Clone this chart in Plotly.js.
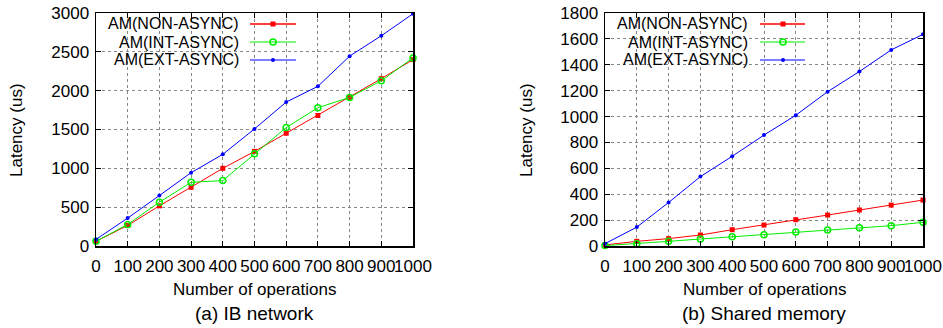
<!DOCTYPE html>
<html>
<head>
<meta charset="utf-8">
<script src="https://cdn.plot.ly/plotly-3.0.1.min.js"></script>
<style>html,body{margin:0;padding:0;background:#fff;}#chart{width:943px;height:328px;}</style>
</head>
<body>
<div id="chart"></div>
<script>
// ---- data ----
const operations = [0, 100, 200, 300, 400, 500, 600, 700, 800, 900, 1000];
const seriesNames = ['AM(NON-ASYNC)', 'AM(INT-ASYNC)', 'AM(EXT-ASYNC)'];
// (a) IB network
const ibNonAsync = [60, 265, 517, 756, 1000, 1218, 1452, 1680, 1913, 2155, 2400];
const ibIntAsync = [60, 278, 564, 820, 842, 1188, 1525, 1780, 1913, 2128, 2422];
const ibExtAsync = [85, 359, 650, 944, 1180, 1508, 1853, 2056, 2444, 2707, 2990];
// (b) Shared memory
const shmNonAsync = [8, 36, 57, 85, 126, 162, 203, 239, 278, 316, 355];
const shmIntAsync = [3, 18, 36, 54, 72, 87, 108, 123, 141, 157, 183];
const shmExtAsync = [18, 146, 336, 536, 693, 857, 1010, 1192, 1348, 1515, 1635];
const captions = ['(a) IB network', '(b) Shared memory'];
const xTitle = 'Number of operations';
const yTitle = 'Latency (us)';

// ---- styles ----
const W = 943, H = 328;
const FONT = '"Liberation Sans", Arial, Helvetica, sans-serif';
const colors = ['#ff0000', '#00ee00', '#0000ff'];
const markerStyles = [
  {symbol: 'square', size: 5, color: colors[0]},
  {symbol: 'circle-open', size: 6, color: colors[1], line: {width: 1.5, color: colors[1]}},
  {symbol: 'circle', size: 4, color: colors[2]}
];
const px = x => x / W;
const py = y => 1 - y / H;

function mkTrace(y, i, xa, ya) {
  return {
    x: operations, y: y, type: 'scatter', mode: 'lines+markers',
    name: seriesNames[i], showlegend: false, cliponaxis: false,
    xaxis: xa, yaxis: ya,
    line: {color: colors[i], width: 1},
    marker: markerStyles[i]
  };
}

const data = [
  mkTrace(ibNonAsync, 0, 'x', 'y'),
  mkTrace(ibIntAsync, 1, 'x', 'y'),
  mkTrace(ibExtAsync, 2, 'x', 'y'),
  mkTrace(shmNonAsync, 0, 'x2', 'y2'),
  mkTrace(shmIntAsync, 1, 'x2', 'y2'),
  mkTrace(shmExtAsync, 2, 'x2', 'y2')
];

const axisCommon = {
  showline: true, linecolor: '#000', linewidth: 1.5, mirror: 'allticks',
  ticks: 'inside', ticklen: 5, tickwidth: 1, tickcolor: '#000',
  showgrid: true, gridcolor: '#888', griddash: 'dot', gridwidth: 1,
  zeroline: false, fixedrange: true,
  tickfont: {family: FONT, size: 17, color: '#000'}
};
const xCommon = Object.assign({}, axisCommon, {range: [0, 1000], dtick: 100, tick0: 0, tickangle: 0, ticklabelstandoff: 4});
const yCommon = Object.assign({}, axisCommon, {ticklabelstandoff: 2});

const dom = [
  {x: [px(96), px(413)]},
  {x: [px(605), px(923)]}
];
const yDom = [py(246), py(13)];

const layout = {
  width: W, height: H,
  margin: {l: 0, r: 0, t: 0, b: 0},
  paper_bgcolor: '#fff', plot_bgcolor: '#fff',
  font: {family: FONT, size: 17, color: '#000'},
  showlegend: false,
  xaxis: Object.assign({}, xCommon, {domain: dom[0].x, anchor: 'y'}),
  yaxis: Object.assign({}, yCommon, {domain: yDom, anchor: 'x', range: [0, 3000], dtick: 500}),
  xaxis2: Object.assign({}, xCommon, {domain: dom[1].x, anchor: 'y2'}),
  yaxis2: Object.assign({}, yCommon, {domain: yDom, anchor: 'x2', range: [0, 1800], dtick: 200}),
  annotations: [],
  shapes: []
};

// titles & captions
const centersX = [(96 + 413) / 2, (605 + 923) / 2];
const yTitleX = [16, 526];
[0, 1].forEach(k => {
  layout.annotations.push({text: xTitle, xref: 'paper', yref: 'paper', x: px(centersX[k]), y: py(289),
    xanchor: 'center', yanchor: 'middle', showarrow: false, font: {family: FONT, size: 17}});
  layout.annotations.push({text: captions[k], xref: 'paper', yref: 'paper', x: px(centersX[k]), y: py(313),
    xanchor: 'center', yanchor: 'middle', showarrow: false, font: {family: FONT, size: 19}});
  layout.annotations.push({text: yTitle, xref: 'paper', yref: 'paper', x: px(yTitleX[k]), y: py(130),
    xanchor: 'center', yanchor: 'middle', showarrow: false, textangle: -90, font: {family: FONT, size: 17}});
});

// custom legends (text left of sample, like gnuplot)
const legendBoxes = [
  {x0: 97, x1: 305, textRight: 240, s0: 250, s1: 296, m: 273},
  {x0: 606, x1: 815, textRight: 749, s0: 760, s1: 805, m: 783}
];
const rowsY = [24, 42, 60];
legendBoxes.forEach(b => {
  layout.shapes.push({type: 'rect', xref: 'paper', yref: 'paper', layer: 'between',
    x0: px(b.x0), x1: px(b.x1), y0: py(68), y1: py(14), fillcolor: '#fff', line: {width: 0}});
  rowsY.forEach((ry, i) => {
    layout.annotations.push({text: seriesNames[i], xref: 'paper', yref: 'paper', x: px(b.textRight), y: py(ry),
      xanchor: 'right', yanchor: 'middle', showarrow: false, borderpad: 0,
      font: {family: FONT, size: 16}});
    layout.shapes.push({type: 'line', xref: 'paper', yref: 'paper', layer: 'above',
      x0: px(b.s0), x1: px(b.s1), y0: py(ry), y1: py(ry), line: {color: colors[i], width: i === 0 ? 1.5 : 1}});
    const r = i === 0 ? 2.5 : (i === 1 ? 3 : 2);
    const shp = {xref: 'paper', yref: 'paper', layer: 'above',
      x0: px(b.m - r), x1: px(b.m + r), y0: py(ry + r), y1: py(ry - r)};
    if (i === 0) Object.assign(shp, {type: 'rect', fillcolor: colors[0], line: {width: 0}});
    else if (i === 1) Object.assign(shp, {type: 'circle', fillcolor: 'rgba(0,0,0,0)', line: {color: colors[1], width: 1.5}});
    else Object.assign(shp, {type: 'circle', fillcolor: colors[2], line: {width: 0}});
    layout.shapes.push(shp);
  });
});

Plotly.newPlot('chart', data, layout, {staticPlot: true, displayModeBar: false});
</script>
</body>
</html>
